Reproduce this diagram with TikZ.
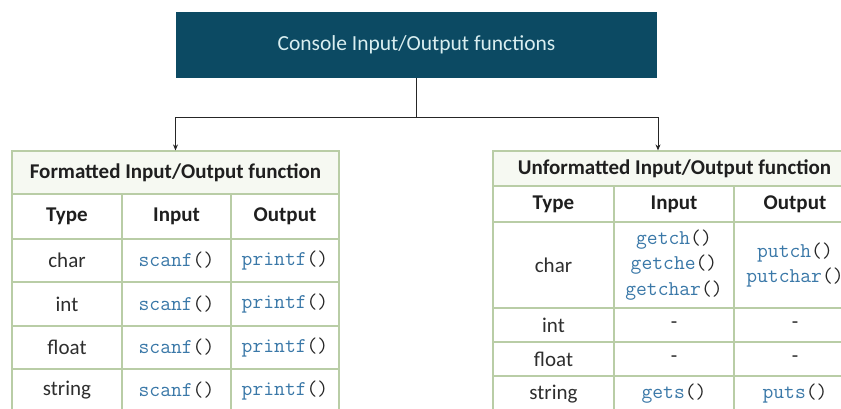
\documentclass[tikz,border=0pt]{standalone}
\usepackage{fontspec}
\setmainfont{Carlito}
\usetikzlibrary{arrows.meta}
\definecolor{topfill}{HTML}{0C4A63}
\definecolor{toptext}{HTML}{D9EEF0}
\definecolor{gridc}{HTML}{B9CDA6}
\definecolor{codeblue}{HTML}{3A78A8}
\definecolor{titlefill}{HTML}{F6F9F2}
\newcommand\fn[1]{{\ttfamily\textcolor{codeblue}{#1}\textcolor{black!85}{()}}}
\tikzset{
  topbox/.style={fill=topfill, text=toptext, inner sep=0pt, font=\fontsize{21.5}{25}\selectfont},
  ttlcell/.style={draw=gridc, line width=1.2pt, fill=titlefill, inner sep=0pt, font=\fontsize{21}{25}\selectfont\bfseries, text=black!88},
  gridline/.style={draw=gridc, line width=1.2pt},
  cell/.style={inner sep=0pt, font=\fontsize{21}{25}\selectfont, text=black!82},
  hdr/.style={inner sep=0pt, font=\fontsize{21}{25}\selectfont\bfseries, text=black!88},
  code/.style={inner sep=0pt, font=\fontsize{21}{25.5}\selectfont, align=center},
  link/.style={draw=black!85, line width=0.9pt},
  arr/.style={link, -{Stealth[length=6pt,width=5pt]}}
}
\begin{document}
\begin{tikzpicture}[x=1pt,y=-1pt]
\useasboundingbox[fill=white] (0,0) rectangle (841,409);
% top box
\node[topbox, minimum width=481pt, minimum height=66pt] (top) at (416.5,45) {Console Input/Output functions};
% left table
\node[ttlcell, minimum width=327pt, minimum height=43pt] (ftitle) at (175.5,172.5) {Formatted Input/Output function};
\draw[gridline] (12,194) rectangle (339,412);
\foreach \yy in {239,282,326,369} \draw[gridline] (12,\yy) -- (339,\yy);
\foreach \xx in {122,231} \draw[gridline] (\xx,194) -- (\xx,412);
% right table
\node[ttlcell, minimum width=363pt, minimum height=35pt] (utitle) at (674.5,168.5) {Unformatted Input/Output function};
\draw[gridline] (493,186) rectangle (856,412);
\foreach \yy in {222,308,342,376} \draw[gridline] (493,\yy) -- (856,\yy);
\foreach \xx in {614,734} \draw[gridline] (\xx,186) -- (\xx,412);
% connectors
\coordinate (j) at (416.5,117);
\draw[link] (top.south) -- (j);
\draw[arr] (j) -| (ftitle.north);
\draw[arr] (j) -| ([xshift=-16.5pt]utitle.north);
% left table contents
\node[hdr] (fh1) at (67,216.5) {Type};
\node[hdr] (fh2) at (176.5,216.5) {Input};
\node[hdr] (fh3) at (285,216.5) {Output};
\node[cell] (fr1) at (67,260.5) {char};
\node[code] (fi1) at (176.5,260.5) {\fn{scanf}};
\node[code] (fo1) at (285,260.5) {\fn{printf}};
\node[cell] (fr2) at (67,304) {int};
\node[code] (fi2) at (176.5,304) {\fn{scanf}};
\node[code] (fo2) at (285,304) {\fn{printf}};
\node[cell] (fr3) at (67,347.5) {float};
\node[code] (fi3) at (176.5,347.5) {\fn{scanf}};
\node[code] (fo3) at (285,347.5) {\fn{printf}};
\node[cell] (fr4) at (67,390.5) {string};
\node[code] (fi4) at (176.5,390.5) {\fn{scanf}};
\node[code] (fo4) at (285,390.5) {\fn{printf}};
% right table contents
\node[hdr] (uh1) at (553.5,204) {Type};
\node[hdr] (uh2) at (674,204) {Input};
\node[hdr] (uh3) at (795,204) {Output};
\node[cell] (ur1) at (553.5,265) {char};
\node[code] (ui1) at (674,265) {\fn{getch}\\\fn{getche}\\\fn{getchar}};
\node[code] (uo1) at (795,265) {\fn{putch}\\\fn{putchar}};
\node[cell] (ur2) at (553.5,325) {int};
\node[cell] (ui2) at (674,325) {-};
\node[cell] (uo2) at (795,325) {-};
\node[cell] (ur3) at (553.5,359) {float};
\node[cell] (ui3) at (674,359) {-};
\node[cell] (uo3) at (795,359) {-};
\node[cell] (ur4) at (553.5,394) {string};
\node[code] (ui4) at (674,394) {\fn{gets}};
\node[code] (uo4) at (795,394) {\fn{puts}};
\end{tikzpicture}
\end{document}
